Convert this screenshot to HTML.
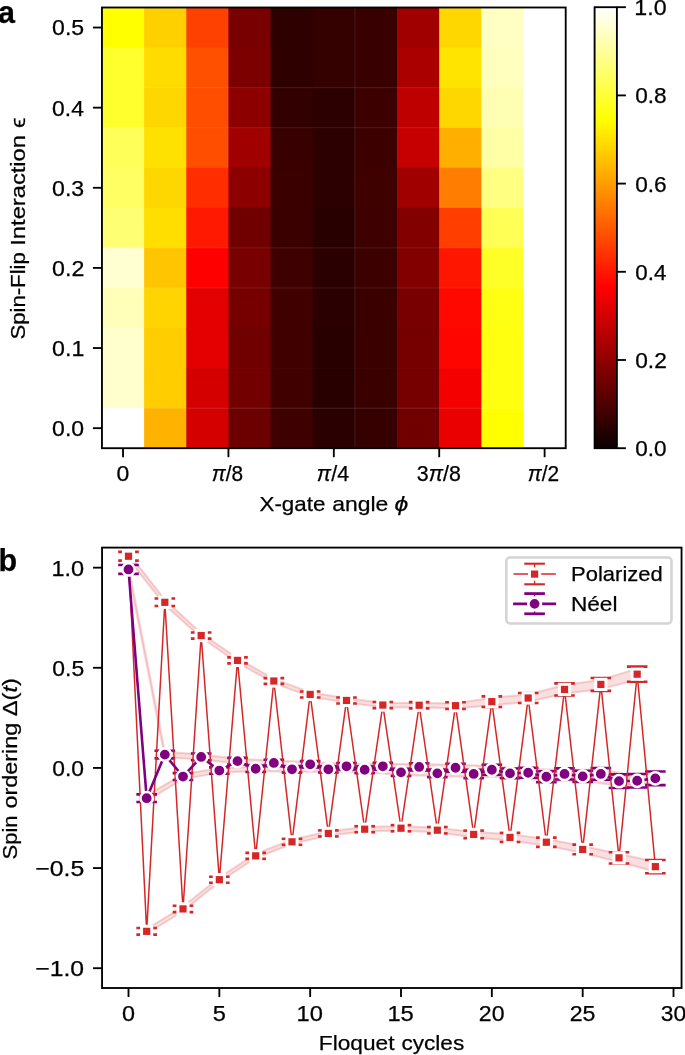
<!DOCTYPE html>
<html><head><meta charset="utf-8"><title>Figure</title>
<style>html,body{margin:0;padding:0;background:#fff;width:685px;height:1055px;overflow:hidden;font-family:"Liberation Sans",sans-serif}svg{display:block;will-change:transform}text{stroke:#000;stroke-width:0.25px}</style>
</head><body>
<svg width="685" height="1055" viewBox="0 0 685 1055" font-family="Liberation Sans, sans-serif"><rect x="101.95" y="7.50" width="42.76" height="40.66" fill="rgb(255,255,0)"/>
<rect x="101.95" y="47.56" width="42.76" height="40.66" fill="rgb(255,255,45)"/>
<rect x="101.95" y="87.63" width="42.76" height="40.66" fill="rgb(255,255,45)"/>
<rect x="101.95" y="127.69" width="42.76" height="40.66" fill="rgb(255,255,90)"/>
<rect x="101.95" y="167.75" width="42.76" height="40.66" fill="rgb(255,255,100)"/>
<rect x="101.95" y="207.82" width="42.76" height="40.66" fill="rgb(255,255,115)"/>
<rect x="101.95" y="247.88" width="42.76" height="40.66" fill="rgb(255,255,210)"/>
<rect x="101.95" y="287.95" width="42.76" height="40.66" fill="rgb(255,255,185)"/>
<rect x="101.95" y="328.01" width="42.76" height="40.66" fill="rgb(255,255,205)"/>
<rect x="101.95" y="368.07" width="42.76" height="40.66" fill="rgb(255,255,205)"/>
<rect x="101.95" y="408.14" width="42.76" height="40.66" fill="rgb(255,255,255)"/>
<rect x="144.11" y="7.50" width="42.76" height="40.66" fill="rgb(255,208,0)"/>
<rect x="144.11" y="47.56" width="42.76" height="40.66" fill="rgb(255,220,0)"/>
<rect x="144.11" y="87.63" width="42.76" height="40.66" fill="rgb(255,215,0)"/>
<rect x="144.11" y="127.69" width="42.76" height="40.66" fill="rgb(255,225,0)"/>
<rect x="144.11" y="167.75" width="42.76" height="40.66" fill="rgb(255,215,0)"/>
<rect x="144.11" y="207.82" width="42.76" height="40.66" fill="rgb(255,222,0)"/>
<rect x="144.11" y="247.88" width="42.76" height="40.66" fill="rgb(255,198,0)"/>
<rect x="144.11" y="287.95" width="42.76" height="40.66" fill="rgb(255,212,0)"/>
<rect x="144.11" y="328.01" width="42.76" height="40.66" fill="rgb(255,205,0)"/>
<rect x="144.11" y="368.07" width="42.76" height="40.66" fill="rgb(255,205,0)"/>
<rect x="144.11" y="408.14" width="42.76" height="40.66" fill="rgb(255,178,0)"/>
<rect x="186.27" y="7.50" width="42.76" height="40.66" fill="rgb(255,65,0)"/>
<rect x="186.27" y="47.56" width="42.76" height="40.66" fill="rgb(255,80,0)"/>
<rect x="186.27" y="87.63" width="42.76" height="40.66" fill="rgb(255,78,0)"/>
<rect x="186.27" y="127.69" width="42.76" height="40.66" fill="rgb(255,78,0)"/>
<rect x="186.27" y="167.75" width="42.76" height="40.66" fill="rgb(255,45,0)"/>
<rect x="186.27" y="207.82" width="42.76" height="40.66" fill="rgb(255,25,0)"/>
<rect x="186.27" y="247.88" width="42.76" height="40.66" fill="rgb(255,0,0)"/>
<rect x="186.27" y="287.95" width="42.76" height="40.66" fill="rgb(228,0,0)"/>
<rect x="186.27" y="328.01" width="42.76" height="40.66" fill="rgb(228,0,0)"/>
<rect x="186.27" y="368.07" width="42.76" height="40.66" fill="rgb(212,0,0)"/>
<rect x="186.27" y="408.14" width="42.76" height="40.66" fill="rgb(212,0,0)"/>
<rect x="228.43" y="7.50" width="42.76" height="40.66" fill="rgb(120,0,0)"/>
<rect x="228.43" y="47.56" width="42.76" height="40.66" fill="rgb(125,0,0)"/>
<rect x="228.43" y="87.63" width="42.76" height="40.66" fill="rgb(140,0,0)"/>
<rect x="228.43" y="127.69" width="42.76" height="40.66" fill="rgb(160,0,0)"/>
<rect x="228.43" y="167.75" width="42.76" height="40.66" fill="rgb(140,0,0)"/>
<rect x="228.43" y="207.82" width="42.76" height="40.66" fill="rgb(112,0,0)"/>
<rect x="228.43" y="247.88" width="42.76" height="40.66" fill="rgb(120,0,0)"/>
<rect x="228.43" y="287.95" width="42.76" height="40.66" fill="rgb(118,0,0)"/>
<rect x="228.43" y="328.01" width="42.76" height="40.66" fill="rgb(112,0,0)"/>
<rect x="228.43" y="368.07" width="42.76" height="40.66" fill="rgb(115,0,0)"/>
<rect x="228.43" y="408.14" width="42.76" height="40.66" fill="rgb(108,0,0)"/>
<rect x="270.59" y="7.50" width="42.76" height="40.66" fill="rgb(47,0,0)"/>
<rect x="270.59" y="47.56" width="42.76" height="40.66" fill="rgb(47,0,0)"/>
<rect x="270.59" y="87.63" width="42.76" height="40.66" fill="rgb(50,0,0)"/>
<rect x="270.59" y="127.69" width="42.76" height="40.66" fill="rgb(57,0,0)"/>
<rect x="270.59" y="167.75" width="42.76" height="40.66" fill="rgb(58,0,0)"/>
<rect x="270.59" y="207.82" width="42.76" height="40.66" fill="rgb(58,0,0)"/>
<rect x="270.59" y="247.88" width="42.76" height="40.66" fill="rgb(62,0,0)"/>
<rect x="270.59" y="287.95" width="42.76" height="40.66" fill="rgb(65,0,0)"/>
<rect x="270.59" y="328.01" width="42.76" height="40.66" fill="rgb(65,0,0)"/>
<rect x="270.59" y="368.07" width="42.76" height="40.66" fill="rgb(65,0,0)"/>
<rect x="270.59" y="408.14" width="42.76" height="40.66" fill="rgb(62,0,0)"/>
<rect x="312.75" y="7.50" width="42.76" height="40.66" fill="rgb(52,0,0)"/>
<rect x="312.75" y="47.56" width="42.76" height="40.66" fill="rgb(52,0,0)"/>
<rect x="312.75" y="87.63" width="42.76" height="40.66" fill="rgb(45,0,0)"/>
<rect x="312.75" y="127.69" width="42.76" height="40.66" fill="rgb(45,0,0)"/>
<rect x="312.75" y="167.75" width="42.76" height="40.66" fill="rgb(45,0,0)"/>
<rect x="312.75" y="207.82" width="42.76" height="40.66" fill="rgb(40,0,0)"/>
<rect x="312.75" y="247.88" width="42.76" height="40.66" fill="rgb(42,0,0)"/>
<rect x="312.75" y="287.95" width="42.76" height="40.66" fill="rgb(42,0,0)"/>
<rect x="312.75" y="328.01" width="42.76" height="40.66" fill="rgb(40,0,0)"/>
<rect x="312.75" y="368.07" width="42.76" height="40.66" fill="rgb(40,0,0)"/>
<rect x="312.75" y="408.14" width="42.76" height="40.66" fill="rgb(42,0,0)"/>
<rect x="354.90" y="7.50" width="42.76" height="40.66" fill="rgb(57,0,0)"/>
<rect x="354.90" y="47.56" width="42.76" height="40.66" fill="rgb(57,0,0)"/>
<rect x="354.90" y="87.63" width="42.76" height="40.66" fill="rgb(60,0,0)"/>
<rect x="354.90" y="127.69" width="42.76" height="40.66" fill="rgb(60,0,0)"/>
<rect x="354.90" y="167.75" width="42.76" height="40.66" fill="rgb(63,0,0)"/>
<rect x="354.90" y="207.82" width="42.76" height="40.66" fill="rgb(62,0,0)"/>
<rect x="354.90" y="247.88" width="42.76" height="40.66" fill="rgb(60,0,0)"/>
<rect x="354.90" y="287.95" width="42.76" height="40.66" fill="rgb(58,0,0)"/>
<rect x="354.90" y="328.01" width="42.76" height="40.66" fill="rgb(58,0,0)"/>
<rect x="354.90" y="368.07" width="42.76" height="40.66" fill="rgb(58,0,0)"/>
<rect x="354.90" y="408.14" width="42.76" height="40.66" fill="rgb(55,0,0)"/>
<rect x="397.06" y="7.50" width="42.76" height="40.66" fill="rgb(160,0,0)"/>
<rect x="397.06" y="47.56" width="42.76" height="40.66" fill="rgb(170,0,0)"/>
<rect x="397.06" y="87.63" width="42.76" height="40.66" fill="rgb(190,0,0)"/>
<rect x="397.06" y="127.69" width="42.76" height="40.66" fill="rgb(198,0,0)"/>
<rect x="397.06" y="167.75" width="42.76" height="40.66" fill="rgb(160,0,0)"/>
<rect x="397.06" y="207.82" width="42.76" height="40.66" fill="rgb(130,0,0)"/>
<rect x="397.06" y="247.88" width="42.76" height="40.66" fill="rgb(130,0,0)"/>
<rect x="397.06" y="287.95" width="42.76" height="40.66" fill="rgb(120,0,0)"/>
<rect x="397.06" y="328.01" width="42.76" height="40.66" fill="rgb(118,0,0)"/>
<rect x="397.06" y="368.07" width="42.76" height="40.66" fill="rgb(118,0,0)"/>
<rect x="397.06" y="408.14" width="42.76" height="40.66" fill="rgb(112,0,0)"/>
<rect x="439.22" y="7.50" width="42.76" height="40.66" fill="rgb(255,215,0)"/>
<rect x="439.22" y="47.56" width="42.76" height="40.66" fill="rgb(255,228,0)"/>
<rect x="439.22" y="87.63" width="42.76" height="40.66" fill="rgb(255,215,0)"/>
<rect x="439.22" y="127.69" width="42.76" height="40.66" fill="rgb(255,175,0)"/>
<rect x="439.22" y="167.75" width="42.76" height="40.66" fill="rgb(255,125,0)"/>
<rect x="439.22" y="207.82" width="42.76" height="40.66" fill="rgb(255,62,0)"/>
<rect x="439.22" y="247.88" width="42.76" height="40.66" fill="rgb(255,22,0)"/>
<rect x="439.22" y="287.95" width="42.76" height="40.66" fill="rgb(255,8,0)"/>
<rect x="439.22" y="328.01" width="42.76" height="40.66" fill="rgb(255,5,0)"/>
<rect x="439.22" y="368.07" width="42.76" height="40.66" fill="rgb(245,0,0)"/>
<rect x="439.22" y="408.14" width="42.76" height="40.66" fill="rgb(235,0,0)"/>
<rect x="481.38" y="7.50" width="42.76" height="40.66" fill="rgb(255,255,195)"/>
<rect x="481.38" y="47.56" width="42.76" height="40.66" fill="rgb(255,255,190)"/>
<rect x="481.38" y="87.63" width="42.76" height="40.66" fill="rgb(255,255,180)"/>
<rect x="481.38" y="127.69" width="42.76" height="40.66" fill="rgb(255,255,165)"/>
<rect x="481.38" y="167.75" width="42.76" height="40.66" fill="rgb(255,255,130)"/>
<rect x="481.38" y="207.82" width="42.76" height="40.66" fill="rgb(255,255,85)"/>
<rect x="481.38" y="247.88" width="42.76" height="40.66" fill="rgb(255,255,40)"/>
<rect x="481.38" y="287.95" width="42.76" height="40.66" fill="rgb(255,255,20)"/>
<rect x="481.38" y="328.01" width="42.76" height="40.66" fill="rgb(255,255,15)"/>
<rect x="481.38" y="368.07" width="42.76" height="40.66" fill="rgb(255,255,15)"/>
<rect x="481.38" y="408.14" width="42.76" height="40.66" fill="rgb(255,255,0)"/>
<rect x="523.54" y="7.50" width="42.76" height="40.66" fill="rgb(255,255,255)"/>
<rect x="523.54" y="47.56" width="42.76" height="40.66" fill="rgb(255,255,255)"/>
<rect x="523.54" y="87.63" width="42.76" height="40.66" fill="rgb(255,255,255)"/>
<rect x="523.54" y="127.69" width="42.76" height="40.66" fill="rgb(255,255,255)"/>
<rect x="523.54" y="167.75" width="42.76" height="40.66" fill="rgb(255,255,255)"/>
<rect x="523.54" y="207.82" width="42.76" height="40.66" fill="rgb(255,255,255)"/>
<rect x="523.54" y="247.88" width="42.76" height="40.66" fill="rgb(255,255,255)"/>
<rect x="523.54" y="287.95" width="42.76" height="40.66" fill="rgb(255,255,255)"/>
<rect x="523.54" y="328.01" width="42.76" height="40.66" fill="rgb(255,255,255)"/>
<rect x="523.54" y="368.07" width="42.76" height="40.66" fill="rgb(255,255,255)"/>
<rect x="523.54" y="408.14" width="42.76" height="40.66" fill="rgb(255,255,255)"/>
<line x1="101.95" y1="87.63" x2="565.70" y2="87.63" stroke="#fff" stroke-opacity="0.1" stroke-width="1"/>
<line x1="101.95" y1="127.69" x2="565.70" y2="127.69" stroke="#fff" stroke-opacity="0.1" stroke-width="1"/>
<line x1="101.95" y1="247.88" x2="565.70" y2="247.88" stroke="#fff" stroke-opacity="0.1" stroke-width="1"/>
<line x1="101.95" y1="287.95" x2="565.70" y2="287.95" stroke="#fff" stroke-opacity="0.1" stroke-width="1"/>
<line x1="101.95" y1="408.14" x2="565.70" y2="408.14" stroke="#fff" stroke-opacity="0.1" stroke-width="1"/>
<line x1="354.90" y1="7.50" x2="354.90" y2="448.20" stroke="#fff" stroke-opacity="0.1" stroke-width="1"/>
<rect x="101.95" y="7.50" width="463.75" height="440.70" fill="none" stroke="#000" stroke-width="1.85"/>
<line x1="92.95" y1="428.17" x2="101.95" y2="428.17" stroke="#000" stroke-width="1.85"/>
<text x="52.10" y="436.07" font-size="21.40" textLength="32.00" lengthAdjust="spacingAndGlyphs" fill="#000"><tspan>0.0</tspan></text>
<line x1="92.95" y1="348.04" x2="101.95" y2="348.04" stroke="#000" stroke-width="1.85"/>
<text x="52.09" y="355.94" font-size="21.40" textLength="32.24" lengthAdjust="spacingAndGlyphs" fill="#000"><tspan>0.1</tspan></text>
<line x1="92.95" y1="267.91" x2="101.95" y2="267.91" stroke="#000" stroke-width="1.85"/>
<text x="52.09" y="275.81" font-size="21.40" textLength="32.27" lengthAdjust="spacingAndGlyphs" fill="#000"><tspan>0.2</tspan></text>
<line x1="92.95" y1="187.79" x2="101.95" y2="187.79" stroke="#000" stroke-width="1.85"/>
<text x="52.10" y="195.69" font-size="21.40" textLength="32.12" lengthAdjust="spacingAndGlyphs" fill="#000"><tspan>0.3</tspan></text>
<line x1="92.95" y1="107.66" x2="101.95" y2="107.66" stroke="#000" stroke-width="1.85"/>
<text x="52.11" y="115.56" font-size="21.40" textLength="31.76" lengthAdjust="spacingAndGlyphs" fill="#000"><tspan>0.4</tspan></text>
<line x1="92.95" y1="27.53" x2="101.95" y2="27.53" stroke="#000" stroke-width="1.85"/>
<text x="52.10" y="35.43" font-size="21.40" textLength="32.07" lengthAdjust="spacingAndGlyphs" fill="#000"><tspan>0.5</tspan></text>
<line x1="123.03" y1="448.20" x2="123.03" y2="457.20" stroke="#000" stroke-width="1.85"/>
<text x="116.60" y="481.30" font-size="21.40" textLength="12.80" lengthAdjust="spacingAndGlyphs" fill="#000"><tspan>0</tspan></text>
<line x1="228.43" y1="448.20" x2="228.43" y2="457.20" stroke="#000" stroke-width="1.85"/>
<text x="211.77" y="481.30" font-size="21.40" textLength="31.33" lengthAdjust="spacingAndGlyphs" fill="#000"><tspan font-style="italic">π</tspan><tspan>/8</tspan></text>
<line x1="333.83" y1="448.20" x2="333.83" y2="457.20" stroke="#000" stroke-width="1.85"/>
<text x="316.85" y="481.30" font-size="21.40" textLength="32.18" lengthAdjust="spacingAndGlyphs" fill="#000"><tspan font-style="italic">π</tspan><tspan>/4</tspan></text>
<line x1="439.22" y1="448.20" x2="439.22" y2="457.20" stroke="#000" stroke-width="1.85"/>
<text x="416.79" y="481.30" font-size="21.40" textLength="44.04" lengthAdjust="spacingAndGlyphs" fill="#000"><tspan>3</tspan><tspan font-style="italic">π</tspan><tspan>/8</tspan></text>
<line x1="544.62" y1="448.20" x2="544.62" y2="457.20" stroke="#000" stroke-width="1.85"/>
<text x="527.77" y="481.30" font-size="21.40" textLength="31.48" lengthAdjust="spacingAndGlyphs" fill="#000"><tspan font-style="italic">π</tspan><tspan>/2</tspan></text>
<text x="259.50" y="511.00" font-size="21.00" textLength="65.91" lengthAdjust="spacingAndGlyphs" fill="#000"><tspan>X-gate</tspan></text>
<text x="332.21" y="511.00" font-size="21.00" textLength="56.10" lengthAdjust="spacingAndGlyphs" fill="#000"><tspan>angle</tspan></text>
<text x="394.61" y="511.00" font-size="21.00" textLength="13.79" lengthAdjust="spacingAndGlyphs" fill="#000"><tspan font-style="italic">ϕ</tspan></text>
<text x="-1.01" y="0.00" font-size="21.00" textLength="87.40" lengthAdjust="spacingAndGlyphs" transform="translate(25.0,338.6) rotate(-90)" fill="#000"><tspan>Spin-Flip</tspan></text>
<text x="92.88" y="0.00" font-size="21.00" textLength="110.73" lengthAdjust="spacingAndGlyphs" transform="translate(25.0,338.6) rotate(-90)" fill="#000"><tspan>Interaction</tspan></text>
<text x="210.49" y="0.00" font-size="21.00" textLength="10.54" lengthAdjust="spacingAndGlyphs" transform="translate(25.0,338.6) rotate(-90)" fill="#000"><tspan>ϵ</tspan></text>
<text x="-2.0" y="23.0" font-size="30.5" font-weight="bold">a</text>
<defs><linearGradient id="hot" x1="0" y1="1" x2="0" y2="0"><stop offset="0" stop-color="rgb(11,0,0)"/><stop offset="0.365079" stop-color="rgb(255,0,0)"/><stop offset="0.746032" stop-color="rgb(255,255,0)"/><stop offset="1" stop-color="rgb(255,255,255)"/></linearGradient></defs>
<rect x="594.60" y="7.20" width="22.30" height="441.00" fill="url(#hot)"/>
<rect x="594.60" y="7.20" width="22.30" height="441.00" fill="none" stroke="#000" stroke-width="1.85"/>
<line x1="616.90" y1="448.20" x2="625.90" y2="448.20" stroke="#000" stroke-width="1.85"/>
<text x="635.22" y="456.10" font-size="21.40" textLength="31.36" lengthAdjust="spacingAndGlyphs" fill="#000"><tspan>0.0</tspan></text>
<line x1="616.90" y1="360.00" x2="625.90" y2="360.00" stroke="#000" stroke-width="1.85"/>
<text x="635.21" y="367.90" font-size="21.40" textLength="31.63" lengthAdjust="spacingAndGlyphs" fill="#000"><tspan>0.2</tspan></text>
<line x1="616.90" y1="271.80" x2="625.90" y2="271.80" stroke="#000" stroke-width="1.85"/>
<text x="635.23" y="279.70" font-size="21.40" textLength="31.13" lengthAdjust="spacingAndGlyphs" fill="#000"><tspan>0.4</tspan></text>
<line x1="616.90" y1="183.60" x2="625.90" y2="183.60" stroke="#000" stroke-width="1.85"/>
<text x="635.22" y="191.50" font-size="21.40" textLength="31.48" lengthAdjust="spacingAndGlyphs" fill="#000"><tspan>0.6</tspan></text>
<line x1="616.90" y1="95.40" x2="625.90" y2="95.40" stroke="#000" stroke-width="1.85"/>
<text x="635.22" y="103.30" font-size="21.40" textLength="31.47" lengthAdjust="spacingAndGlyphs" fill="#000"><tspan>0.8</tspan></text>
<line x1="616.90" y1="7.20" x2="625.90" y2="7.20" stroke="#000" stroke-width="1.85"/>
<text x="634.33" y="15.10" font-size="21.40" textLength="32.28" lengthAdjust="spacingAndGlyphs" fill="#000"><tspan>1.0</tspan></text>
<defs><clipPath id="cb"><rect x="102.05" y="547.60" width="579.50" height="440.40"/></clipPath></defs>
<g clip-path="url(#cb)"><polygon points="128.50,553.07 164.83,599.57 201.17,633.33 237.50,658.19 273.84,678.89 310.17,692.24 346.50,698.25 382.84,702.78 419.17,702.98 455.51,703.16 491.84,697.77 528.17,694.38 564.51,685.04 600.84,679.74 637.18,668.65 637.18,679.76 600.84,689.10 564.51,693.81 528.17,701.69 491.84,705.51 455.51,708.13 419.17,707.51 382.84,707.31 346.50,702.63 310.17,696.62 273.84,683.13 237.50,662.58 201.17,637.77 164.83,605.04 128.50,559.42" fill="#d62728" fill-opacity="0.15" stroke="#d62728" stroke-opacity="0.19" stroke-width="2.0" stroke-linejoin="round"/><polygon points="146.67,928.94 183.00,906.58 219.34,877.49 255.67,853.66 292.00,839.64 328.34,831.23 364.67,827.02 401.00,825.95 437.34,827.87 473.67,831.64 510.01,834.13 546.34,838.87 582.68,845.93 619.01,853.76 655.34,861.84 655.34,871.49 619.01,861.94 582.68,852.95 546.34,845.59 510.01,840.71 473.67,837.20 437.34,832.55 401.00,830.48 364.67,831.41 328.34,835.61 292.00,844.02 255.67,858.04 219.34,881.87 183.00,911.26 146.67,933.76" fill="#d62728" fill-opacity="0.15" stroke="#d62728" stroke-opacity="0.19" stroke-width="2.0" stroke-linejoin="round"/><polygon points="128.50,566.25 164.83,751.81 201.17,754.43 237.50,758.78 273.84,760.58 310.17,761.99 346.50,763.99 382.84,763.84 419.17,764.30 455.51,764.81 491.84,766.08 528.17,769.08 564.51,769.84 600.84,769.70 637.18,775.78 637.18,785.72 600.84,778.18 564.51,778.03 528.17,776.39 491.84,773.39 455.51,770.65 419.17,769.56 382.84,768.81 346.50,768.67 310.17,766.66 273.84,765.26 237.50,763.46 201.17,759.40 164.83,757.37 128.50,572.68" fill="#d62728" fill-opacity="0.15" stroke="#d62728" stroke-opacity="0.19" stroke-width="2.0" stroke-linejoin="round"/><polygon points="146.67,795.39 183.00,774.06 219.34,768.19 255.67,766.39 292.00,766.99 328.34,766.99 364.67,767.25 401.00,769.70 437.34,770.56 473.67,770.87 510.01,769.83 546.34,772.72 582.68,772.25 619.01,776.18 655.34,773.37 655.34,783.31 619.01,786.12 582.68,780.43 546.34,780.76 510.01,776.85 473.67,777.01 437.34,776.12 401.00,774.97 364.67,772.22 328.34,771.67 292.00,771.67 255.67,771.07 219.34,772.87 183.00,779.03 146.67,800.95" fill="#d62728" fill-opacity="0.15" stroke="#d62728" stroke-opacity="0.19" stroke-width="2.0" stroke-linejoin="round"/><line x1="128.50" y1="551.90" x2="128.50" y2="560.59" stroke="#d62728" stroke-width="1.3"/><line x1="118.20" y1="551.90" x2="138.80" y2="551.90" stroke="#d62728" stroke-width="2.60"/><line x1="118.20" y1="560.59" x2="138.80" y2="560.59" stroke="#d62728" stroke-width="2.60"/><line x1="146.67" y1="928.05" x2="146.67" y2="934.65" stroke="#d62728" stroke-width="1.3"/><line x1="136.37" y1="928.05" x2="156.97" y2="928.05" stroke="#d62728" stroke-width="2.60"/><line x1="136.37" y1="934.65" x2="156.97" y2="934.65" stroke="#d62728" stroke-width="2.60"/><line x1="164.83" y1="598.56" x2="164.83" y2="606.05" stroke="#d62728" stroke-width="1.3"/><line x1="154.53" y1="598.56" x2="175.13" y2="598.56" stroke="#d62728" stroke-width="2.60"/><line x1="154.53" y1="606.05" x2="175.13" y2="606.05" stroke="#d62728" stroke-width="2.60"/><line x1="183.00" y1="905.72" x2="183.00" y2="912.12" stroke="#d62728" stroke-width="1.3"/><line x1="172.70" y1="905.72" x2="193.30" y2="905.72" stroke="#d62728" stroke-width="2.60"/><line x1="172.70" y1="912.12" x2="193.30" y2="912.12" stroke="#d62728" stroke-width="2.60"/><line x1="201.17" y1="632.51" x2="201.17" y2="638.60" stroke="#d62728" stroke-width="1.3"/><line x1="190.87" y1="632.51" x2="211.47" y2="632.51" stroke="#d62728" stroke-width="2.60"/><line x1="190.87" y1="638.60" x2="211.47" y2="638.60" stroke="#d62728" stroke-width="2.60"/><line x1="219.34" y1="876.68" x2="219.34" y2="882.68" stroke="#d62728" stroke-width="1.3"/><line x1="209.03" y1="876.68" x2="229.64" y2="876.68" stroke="#d62728" stroke-width="2.60"/><line x1="209.03" y1="882.68" x2="229.64" y2="882.68" stroke="#d62728" stroke-width="2.60"/><line x1="237.50" y1="657.38" x2="237.50" y2="663.39" stroke="#d62728" stroke-width="1.3"/><line x1="227.20" y1="657.38" x2="247.80" y2="657.38" stroke="#d62728" stroke-width="2.60"/><line x1="227.20" y1="663.39" x2="247.80" y2="663.39" stroke="#d62728" stroke-width="2.60"/><line x1="255.67" y1="852.84" x2="255.67" y2="858.85" stroke="#d62728" stroke-width="1.3"/><line x1="245.37" y1="852.84" x2="265.97" y2="852.84" stroke="#d62728" stroke-width="2.60"/><line x1="245.37" y1="858.85" x2="265.97" y2="858.85" stroke="#d62728" stroke-width="2.60"/><line x1="273.84" y1="678.11" x2="273.84" y2="683.92" stroke="#d62728" stroke-width="1.3"/><line x1="263.54" y1="678.11" x2="284.14" y2="678.11" stroke="#d62728" stroke-width="2.60"/><line x1="263.54" y1="683.92" x2="284.14" y2="683.92" stroke="#d62728" stroke-width="2.60"/><line x1="292.00" y1="838.83" x2="292.00" y2="844.83" stroke="#d62728" stroke-width="1.3"/><line x1="281.70" y1="838.83" x2="302.30" y2="838.83" stroke="#d62728" stroke-width="2.60"/><line x1="281.70" y1="844.83" x2="302.30" y2="844.83" stroke="#d62728" stroke-width="2.60"/><line x1="310.17" y1="691.43" x2="310.17" y2="697.43" stroke="#d62728" stroke-width="1.3"/><line x1="299.87" y1="691.43" x2="320.47" y2="691.43" stroke="#d62728" stroke-width="2.60"/><line x1="299.87" y1="697.43" x2="320.47" y2="697.43" stroke="#d62728" stroke-width="2.60"/><line x1="328.34" y1="830.41" x2="328.34" y2="836.42" stroke="#d62728" stroke-width="1.3"/><line x1="318.04" y1="830.41" x2="338.64" y2="830.41" stroke="#d62728" stroke-width="2.60"/><line x1="318.04" y1="836.42" x2="338.64" y2="836.42" stroke="#d62728" stroke-width="2.60"/><line x1="346.50" y1="697.43" x2="346.50" y2="703.44" stroke="#d62728" stroke-width="1.3"/><line x1="336.20" y1="697.43" x2="356.80" y2="697.43" stroke="#d62728" stroke-width="2.60"/><line x1="336.20" y1="703.44" x2="356.80" y2="703.44" stroke="#d62728" stroke-width="2.60"/><line x1="364.67" y1="826.21" x2="364.67" y2="832.22" stroke="#d62728" stroke-width="1.3"/><line x1="354.37" y1="826.21" x2="374.97" y2="826.21" stroke="#d62728" stroke-width="2.60"/><line x1="354.37" y1="832.22" x2="374.97" y2="832.22" stroke="#d62728" stroke-width="2.60"/><line x1="382.84" y1="701.94" x2="382.84" y2="708.15" stroke="#d62728" stroke-width="1.3"/><line x1="372.54" y1="701.94" x2="393.14" y2="701.94" stroke="#d62728" stroke-width="2.60"/><line x1="372.54" y1="708.15" x2="393.14" y2="708.15" stroke="#d62728" stroke-width="2.60"/><line x1="401.00" y1="825.11" x2="401.00" y2="831.32" stroke="#d62728" stroke-width="1.3"/><line x1="390.70" y1="825.11" x2="411.31" y2="825.11" stroke="#d62728" stroke-width="2.60"/><line x1="390.70" y1="831.32" x2="411.31" y2="831.32" stroke="#d62728" stroke-width="2.60"/><line x1="419.17" y1="702.14" x2="419.17" y2="708.35" stroke="#d62728" stroke-width="1.3"/><line x1="408.87" y1="702.14" x2="429.47" y2="702.14" stroke="#d62728" stroke-width="2.60"/><line x1="408.87" y1="708.35" x2="429.47" y2="708.35" stroke="#d62728" stroke-width="2.60"/><line x1="437.34" y1="827.01" x2="437.34" y2="833.42" stroke="#d62728" stroke-width="1.3"/><line x1="427.04" y1="827.01" x2="447.64" y2="827.01" stroke="#d62728" stroke-width="2.60"/><line x1="427.04" y1="833.42" x2="447.64" y2="833.42" stroke="#d62728" stroke-width="2.60"/><line x1="455.51" y1="702.24" x2="455.51" y2="709.05" stroke="#d62728" stroke-width="1.3"/><line x1="445.21" y1="702.24" x2="465.81" y2="702.24" stroke="#d62728" stroke-width="2.60"/><line x1="445.21" y1="709.05" x2="465.81" y2="709.05" stroke="#d62728" stroke-width="2.60"/><line x1="473.67" y1="830.61" x2="473.67" y2="838.22" stroke="#d62728" stroke-width="1.3"/><line x1="463.37" y1="830.61" x2="483.97" y2="830.61" stroke="#d62728" stroke-width="2.60"/><line x1="463.37" y1="838.22" x2="483.97" y2="838.22" stroke="#d62728" stroke-width="2.60"/><line x1="491.84" y1="696.33" x2="491.84" y2="706.95" stroke="#d62728" stroke-width="1.3"/><line x1="481.54" y1="696.33" x2="502.14" y2="696.33" stroke="#d62728" stroke-width="2.60"/><line x1="481.54" y1="706.95" x2="502.14" y2="706.95" stroke="#d62728" stroke-width="2.60"/><line x1="510.01" y1="832.92" x2="510.01" y2="841.93" stroke="#d62728" stroke-width="1.3"/><line x1="499.71" y1="832.92" x2="520.31" y2="832.92" stroke="#d62728" stroke-width="2.60"/><line x1="499.71" y1="841.93" x2="520.31" y2="841.93" stroke="#d62728" stroke-width="2.60"/><line x1="528.17" y1="693.03" x2="528.17" y2="703.04" stroke="#d62728" stroke-width="1.3"/><line x1="517.87" y1="693.03" x2="538.47" y2="693.03" stroke="#d62728" stroke-width="2.60"/><line x1="517.87" y1="703.04" x2="538.47" y2="703.04" stroke="#d62728" stroke-width="2.60"/><line x1="546.34" y1="837.62" x2="546.34" y2="846.84" stroke="#d62728" stroke-width="1.3"/><line x1="536.04" y1="837.62" x2="556.64" y2="837.62" stroke="#d62728" stroke-width="2.60"/><line x1="536.04" y1="846.84" x2="556.64" y2="846.84" stroke="#d62728" stroke-width="2.60"/><line x1="564.51" y1="683.42" x2="564.51" y2="695.43" stroke="#d62728" stroke-width="1.3"/><line x1="554.21" y1="683.42" x2="574.81" y2="683.42" stroke="#d62728" stroke-width="2.60"/><line x1="554.21" y1="695.43" x2="574.81" y2="695.43" stroke="#d62728" stroke-width="2.60"/><line x1="582.68" y1="844.63" x2="582.68" y2="854.25" stroke="#d62728" stroke-width="1.3"/><line x1="572.38" y1="844.63" x2="592.98" y2="844.63" stroke="#d62728" stroke-width="2.60"/><line x1="572.38" y1="854.25" x2="592.98" y2="854.25" stroke="#d62728" stroke-width="2.60"/><line x1="600.84" y1="678.01" x2="600.84" y2="690.83" stroke="#d62728" stroke-width="1.3"/><line x1="590.54" y1="678.01" x2="611.14" y2="678.01" stroke="#d62728" stroke-width="2.60"/><line x1="590.54" y1="690.83" x2="611.14" y2="690.83" stroke="#d62728" stroke-width="2.60"/><line x1="619.01" y1="852.24" x2="619.01" y2="863.46" stroke="#d62728" stroke-width="1.3"/><line x1="608.71" y1="852.24" x2="629.31" y2="852.24" stroke="#d62728" stroke-width="2.60"/><line x1="608.71" y1="863.46" x2="629.31" y2="863.46" stroke="#d62728" stroke-width="2.60"/><line x1="637.18" y1="666.59" x2="637.18" y2="681.81" stroke="#d62728" stroke-width="1.3"/><line x1="626.88" y1="666.59" x2="647.48" y2="666.59" stroke="#d62728" stroke-width="2.60"/><line x1="626.88" y1="681.81" x2="647.48" y2="681.81" stroke="#d62728" stroke-width="2.60"/><line x1="655.34" y1="860.05" x2="655.34" y2="873.27" stroke="#d62728" stroke-width="1.3"/><line x1="645.04" y1="860.05" x2="665.64" y2="860.05" stroke="#d62728" stroke-width="2.60"/><line x1="645.04" y1="873.27" x2="665.64" y2="873.27" stroke="#d62728" stroke-width="2.60"/><line x1="128.50" y1="565.06" x2="128.50" y2="573.87" stroke="#800080" stroke-width="1.3"/><line x1="118.20" y1="565.06" x2="138.80" y2="565.06" stroke="#800080" stroke-width="2.60"/><line x1="118.20" y1="573.87" x2="138.80" y2="573.87" stroke="#800080" stroke-width="2.60"/><line x1="146.67" y1="794.37" x2="146.67" y2="801.98" stroke="#800080" stroke-width="1.3"/><line x1="136.37" y1="794.37" x2="156.97" y2="794.37" stroke="#800080" stroke-width="2.60"/><line x1="136.37" y1="801.98" x2="156.97" y2="801.98" stroke="#800080" stroke-width="2.60"/><line x1="164.83" y1="750.79" x2="164.83" y2="758.40" stroke="#800080" stroke-width="1.3"/><line x1="154.53" y1="750.79" x2="175.13" y2="750.79" stroke="#800080" stroke-width="2.60"/><line x1="154.53" y1="758.40" x2="175.13" y2="758.40" stroke="#800080" stroke-width="2.60"/><line x1="183.00" y1="773.14" x2="183.00" y2="779.95" stroke="#800080" stroke-width="1.3"/><line x1="172.70" y1="773.14" x2="193.30" y2="773.14" stroke="#800080" stroke-width="2.60"/><line x1="172.70" y1="779.95" x2="193.30" y2="779.95" stroke="#800080" stroke-width="2.60"/><line x1="201.17" y1="753.51" x2="201.17" y2="760.32" stroke="#800080" stroke-width="1.3"/><line x1="190.87" y1="753.51" x2="211.47" y2="753.51" stroke="#800080" stroke-width="2.60"/><line x1="190.87" y1="760.32" x2="211.47" y2="760.32" stroke="#800080" stroke-width="2.60"/><line x1="219.34" y1="767.33" x2="219.34" y2="773.74" stroke="#800080" stroke-width="1.3"/><line x1="209.03" y1="767.33" x2="229.64" y2="767.33" stroke="#800080" stroke-width="2.60"/><line x1="209.03" y1="773.74" x2="229.64" y2="773.74" stroke="#800080" stroke-width="2.60"/><line x1="237.50" y1="757.92" x2="237.50" y2="764.33" stroke="#800080" stroke-width="1.3"/><line x1="227.20" y1="757.92" x2="247.80" y2="757.92" stroke="#800080" stroke-width="2.60"/><line x1="227.20" y1="764.33" x2="247.80" y2="764.33" stroke="#800080" stroke-width="2.60"/><line x1="255.67" y1="765.53" x2="255.67" y2="771.94" stroke="#800080" stroke-width="1.3"/><line x1="245.37" y1="765.53" x2="265.97" y2="765.53" stroke="#800080" stroke-width="2.60"/><line x1="245.37" y1="771.94" x2="265.97" y2="771.94" stroke="#800080" stroke-width="2.60"/><line x1="273.84" y1="759.72" x2="273.84" y2="766.13" stroke="#800080" stroke-width="1.3"/><line x1="263.54" y1="759.72" x2="284.14" y2="759.72" stroke="#800080" stroke-width="2.60"/><line x1="263.54" y1="766.13" x2="284.14" y2="766.13" stroke="#800080" stroke-width="2.60"/><line x1="292.00" y1="766.13" x2="292.00" y2="772.54" stroke="#800080" stroke-width="1.3"/><line x1="281.70" y1="766.13" x2="302.30" y2="766.13" stroke="#800080" stroke-width="2.60"/><line x1="281.70" y1="772.54" x2="302.30" y2="772.54" stroke="#800080" stroke-width="2.60"/><line x1="310.17" y1="761.12" x2="310.17" y2="767.53" stroke="#800080" stroke-width="1.3"/><line x1="299.87" y1="761.12" x2="320.47" y2="761.12" stroke="#800080" stroke-width="2.60"/><line x1="299.87" y1="767.53" x2="320.47" y2="767.53" stroke="#800080" stroke-width="2.60"/><line x1="328.34" y1="766.13" x2="328.34" y2="772.54" stroke="#800080" stroke-width="1.3"/><line x1="318.04" y1="766.13" x2="338.64" y2="766.13" stroke="#800080" stroke-width="2.60"/><line x1="318.04" y1="772.54" x2="338.64" y2="772.54" stroke="#800080" stroke-width="2.60"/><line x1="346.50" y1="763.12" x2="346.50" y2="769.53" stroke="#800080" stroke-width="1.3"/><line x1="336.20" y1="763.12" x2="356.80" y2="763.12" stroke="#800080" stroke-width="2.60"/><line x1="336.20" y1="769.53" x2="356.80" y2="769.53" stroke="#800080" stroke-width="2.60"/><line x1="364.67" y1="766.33" x2="364.67" y2="773.14" stroke="#800080" stroke-width="1.3"/><line x1="354.37" y1="766.33" x2="374.97" y2="766.33" stroke="#800080" stroke-width="2.60"/><line x1="354.37" y1="773.14" x2="374.97" y2="773.14" stroke="#800080" stroke-width="2.60"/><line x1="382.84" y1="762.92" x2="382.84" y2="769.73" stroke="#800080" stroke-width="1.3"/><line x1="372.54" y1="762.92" x2="393.14" y2="762.92" stroke="#800080" stroke-width="2.60"/><line x1="372.54" y1="769.73" x2="393.14" y2="769.73" stroke="#800080" stroke-width="2.60"/><line x1="401.00" y1="768.73" x2="401.00" y2="775.94" stroke="#800080" stroke-width="1.3"/><line x1="390.70" y1="768.73" x2="411.31" y2="768.73" stroke="#800080" stroke-width="2.60"/><line x1="390.70" y1="775.94" x2="411.31" y2="775.94" stroke="#800080" stroke-width="2.60"/><line x1="419.17" y1="763.32" x2="419.17" y2="770.53" stroke="#800080" stroke-width="1.3"/><line x1="408.87" y1="763.32" x2="429.47" y2="763.32" stroke="#800080" stroke-width="2.60"/><line x1="408.87" y1="770.53" x2="429.47" y2="770.53" stroke="#800080" stroke-width="2.60"/><line x1="437.34" y1="769.53" x2="437.34" y2="777.14" stroke="#800080" stroke-width="1.3"/><line x1="427.04" y1="769.53" x2="447.64" y2="769.53" stroke="#800080" stroke-width="2.60"/><line x1="427.04" y1="777.14" x2="447.64" y2="777.14" stroke="#800080" stroke-width="2.60"/><line x1="455.51" y1="763.72" x2="455.51" y2="771.74" stroke="#800080" stroke-width="1.3"/><line x1="445.21" y1="763.72" x2="465.81" y2="763.72" stroke="#800080" stroke-width="2.60"/><line x1="445.21" y1="771.74" x2="465.81" y2="771.74" stroke="#800080" stroke-width="2.60"/><line x1="473.67" y1="769.73" x2="473.67" y2="778.14" stroke="#800080" stroke-width="1.3"/><line x1="463.37" y1="769.73" x2="483.97" y2="769.73" stroke="#800080" stroke-width="2.60"/><line x1="463.37" y1="778.14" x2="483.97" y2="778.14" stroke="#800080" stroke-width="2.60"/><line x1="491.84" y1="764.73" x2="491.84" y2="774.74" stroke="#800080" stroke-width="1.3"/><line x1="481.54" y1="764.73" x2="502.14" y2="764.73" stroke="#800080" stroke-width="2.60"/><line x1="481.54" y1="774.74" x2="502.14" y2="774.74" stroke="#800080" stroke-width="2.60"/><line x1="510.01" y1="768.53" x2="510.01" y2="778.14" stroke="#800080" stroke-width="1.3"/><line x1="499.71" y1="768.53" x2="520.31" y2="768.53" stroke="#800080" stroke-width="2.60"/><line x1="499.71" y1="778.14" x2="520.31" y2="778.14" stroke="#800080" stroke-width="2.60"/><line x1="528.17" y1="767.73" x2="528.17" y2="777.74" stroke="#800080" stroke-width="1.3"/><line x1="517.87" y1="767.73" x2="538.47" y2="767.73" stroke="#800080" stroke-width="2.60"/><line x1="517.87" y1="777.74" x2="538.47" y2="777.74" stroke="#800080" stroke-width="2.60"/><line x1="546.34" y1="771.23" x2="546.34" y2="782.25" stroke="#800080" stroke-width="1.3"/><line x1="536.04" y1="771.23" x2="556.64" y2="771.23" stroke="#800080" stroke-width="2.60"/><line x1="536.04" y1="782.25" x2="556.64" y2="782.25" stroke="#800080" stroke-width="2.60"/><line x1="564.51" y1="768.33" x2="564.51" y2="779.55" stroke="#800080" stroke-width="1.3"/><line x1="554.21" y1="768.33" x2="574.81" y2="768.33" stroke="#800080" stroke-width="2.60"/><line x1="554.21" y1="779.55" x2="574.81" y2="779.55" stroke="#800080" stroke-width="2.60"/><line x1="582.68" y1="770.73" x2="582.68" y2="781.95" stroke="#800080" stroke-width="1.3"/><line x1="572.38" y1="770.73" x2="592.98" y2="770.73" stroke="#800080" stroke-width="2.60"/><line x1="572.38" y1="781.95" x2="592.98" y2="781.95" stroke="#800080" stroke-width="2.60"/><line x1="600.84" y1="768.13" x2="600.84" y2="779.75" stroke="#800080" stroke-width="1.3"/><line x1="590.54" y1="768.13" x2="611.14" y2="768.13" stroke="#800080" stroke-width="2.60"/><line x1="590.54" y1="779.75" x2="611.14" y2="779.75" stroke="#800080" stroke-width="2.60"/><line x1="619.01" y1="774.34" x2="619.01" y2="787.96" stroke="#800080" stroke-width="1.3"/><line x1="608.71" y1="774.34" x2="629.31" y2="774.34" stroke="#800080" stroke-width="2.60"/><line x1="608.71" y1="787.96" x2="629.31" y2="787.96" stroke="#800080" stroke-width="2.60"/><line x1="637.18" y1="773.94" x2="637.18" y2="787.56" stroke="#800080" stroke-width="1.3"/><line x1="626.88" y1="773.94" x2="647.48" y2="773.94" stroke="#800080" stroke-width="2.60"/><line x1="626.88" y1="787.56" x2="647.48" y2="787.56" stroke="#800080" stroke-width="2.60"/><line x1="655.34" y1="771.53" x2="655.34" y2="785.15" stroke="#800080" stroke-width="1.3"/><line x1="645.04" y1="771.53" x2="665.64" y2="771.53" stroke="#800080" stroke-width="2.60"/><line x1="645.04" y1="785.15" x2="665.64" y2="785.15" stroke="#800080" stroke-width="2.60"/><polyline points="128.50,556.24 146.67,931.35 164.83,602.31 183.00,908.92 201.17,635.55 219.34,879.68 237.50,660.39 255.67,855.85 273.84,681.01 292.00,841.83 310.17,694.43 328.34,833.42 346.50,700.44 364.67,829.21 382.84,705.05 401.00,828.21 419.17,705.25 437.34,830.21 455.51,705.65 473.67,834.42 491.84,701.64 510.01,837.42 528.17,698.04 546.34,842.23 564.51,689.42 582.68,849.44 600.84,684.42 619.01,857.85 637.18,674.20 655.34,866.66" fill="none" stroke="#d62728" stroke-width="1.50" stroke-linejoin="round"/><rect x="123.40" y="551.14" width="10.2" height="10.2" fill="#d62728" stroke="#fff" stroke-width="3"/><rect x="141.57" y="926.25" width="10.2" height="10.2" fill="#d62728" stroke="#fff" stroke-width="3"/><rect x="159.73" y="597.21" width="10.2" height="10.2" fill="#d62728" stroke="#fff" stroke-width="3"/><rect x="177.90" y="903.82" width="10.2" height="10.2" fill="#d62728" stroke="#fff" stroke-width="3"/><rect x="196.07" y="630.45" width="10.2" height="10.2" fill="#d62728" stroke="#fff" stroke-width="3"/><rect x="214.24" y="874.58" width="10.2" height="10.2" fill="#d62728" stroke="#fff" stroke-width="3"/><rect x="232.40" y="655.29" width="10.2" height="10.2" fill="#d62728" stroke="#fff" stroke-width="3"/><rect x="250.57" y="850.75" width="10.2" height="10.2" fill="#d62728" stroke="#fff" stroke-width="3"/><rect x="268.74" y="675.91" width="10.2" height="10.2" fill="#d62728" stroke="#fff" stroke-width="3"/><rect x="286.90" y="836.73" width="10.2" height="10.2" fill="#d62728" stroke="#fff" stroke-width="3"/><rect x="305.07" y="689.33" width="10.2" height="10.2" fill="#d62728" stroke="#fff" stroke-width="3"/><rect x="323.24" y="828.32" width="10.2" height="10.2" fill="#d62728" stroke="#fff" stroke-width="3"/><rect x="341.40" y="695.34" width="10.2" height="10.2" fill="#d62728" stroke="#fff" stroke-width="3"/><rect x="359.57" y="824.11" width="10.2" height="10.2" fill="#d62728" stroke="#fff" stroke-width="3"/><rect x="377.74" y="699.95" width="10.2" height="10.2" fill="#d62728" stroke="#fff" stroke-width="3"/><rect x="395.90" y="823.11" width="10.2" height="10.2" fill="#d62728" stroke="#fff" stroke-width="3"/><rect x="414.07" y="700.15" width="10.2" height="10.2" fill="#d62728" stroke="#fff" stroke-width="3"/><rect x="432.24" y="825.11" width="10.2" height="10.2" fill="#d62728" stroke="#fff" stroke-width="3"/><rect x="450.41" y="700.55" width="10.2" height="10.2" fill="#d62728" stroke="#fff" stroke-width="3"/><rect x="468.57" y="829.32" width="10.2" height="10.2" fill="#d62728" stroke="#fff" stroke-width="3"/><rect x="486.74" y="696.54" width="10.2" height="10.2" fill="#d62728" stroke="#fff" stroke-width="3"/><rect x="504.91" y="832.32" width="10.2" height="10.2" fill="#d62728" stroke="#fff" stroke-width="3"/><rect x="523.07" y="692.94" width="10.2" height="10.2" fill="#d62728" stroke="#fff" stroke-width="3"/><rect x="541.24" y="837.13" width="10.2" height="10.2" fill="#d62728" stroke="#fff" stroke-width="3"/><rect x="559.41" y="684.32" width="10.2" height="10.2" fill="#d62728" stroke="#fff" stroke-width="3"/><rect x="577.58" y="844.34" width="10.2" height="10.2" fill="#d62728" stroke="#fff" stroke-width="3"/><rect x="595.74" y="679.32" width="10.2" height="10.2" fill="#d62728" stroke="#fff" stroke-width="3"/><rect x="613.91" y="852.75" width="10.2" height="10.2" fill="#d62728" stroke="#fff" stroke-width="3"/><rect x="632.08" y="669.10" width="10.2" height="10.2" fill="#d62728" stroke="#fff" stroke-width="3"/><rect x="650.24" y="861.56" width="10.2" height="10.2" fill="#d62728" stroke="#fff" stroke-width="3"/><polyline points="128.50,569.46 146.67,798.17 164.83,754.59 183.00,776.54 201.17,756.92 219.34,770.53 237.50,761.12 255.67,768.73 273.84,762.92 292.00,769.33 310.17,764.33 328.34,769.33 346.50,766.33 364.67,769.73 382.84,766.33 401.00,772.34 419.17,766.93 437.34,773.34 455.51,767.73 473.67,773.94 491.84,769.73 510.01,773.34 528.17,772.74 546.34,776.74 564.51,773.94 582.68,776.34 600.84,773.94 619.01,781.15 637.18,780.75 655.34,778.34" fill="none" stroke="#800080" stroke-width="2.60" stroke-linejoin="round"/><circle cx="128.50" cy="569.46" r="6.15" fill="#800080" stroke="#fff" stroke-width="2.5"/><circle cx="146.67" cy="798.17" r="6.15" fill="#800080" stroke="#fff" stroke-width="2.5"/><circle cx="164.83" cy="754.59" r="6.15" fill="#800080" stroke="#fff" stroke-width="2.5"/><circle cx="183.00" cy="776.54" r="6.15" fill="#800080" stroke="#fff" stroke-width="2.5"/><circle cx="201.17" cy="756.92" r="6.15" fill="#800080" stroke="#fff" stroke-width="2.5"/><circle cx="219.34" cy="770.53" r="6.15" fill="#800080" stroke="#fff" stroke-width="2.5"/><circle cx="237.50" cy="761.12" r="6.15" fill="#800080" stroke="#fff" stroke-width="2.5"/><circle cx="255.67" cy="768.73" r="6.15" fill="#800080" stroke="#fff" stroke-width="2.5"/><circle cx="273.84" cy="762.92" r="6.15" fill="#800080" stroke="#fff" stroke-width="2.5"/><circle cx="292.00" cy="769.33" r="6.15" fill="#800080" stroke="#fff" stroke-width="2.5"/><circle cx="310.17" cy="764.33" r="6.15" fill="#800080" stroke="#fff" stroke-width="2.5"/><circle cx="328.34" cy="769.33" r="6.15" fill="#800080" stroke="#fff" stroke-width="2.5"/><circle cx="346.50" cy="766.33" r="6.15" fill="#800080" stroke="#fff" stroke-width="2.5"/><circle cx="364.67" cy="769.73" r="6.15" fill="#800080" stroke="#fff" stroke-width="2.5"/><circle cx="382.84" cy="766.33" r="6.15" fill="#800080" stroke="#fff" stroke-width="2.5"/><circle cx="401.00" cy="772.34" r="6.15" fill="#800080" stroke="#fff" stroke-width="2.5"/><circle cx="419.17" cy="766.93" r="6.15" fill="#800080" stroke="#fff" stroke-width="2.5"/><circle cx="437.34" cy="773.34" r="6.15" fill="#800080" stroke="#fff" stroke-width="2.5"/><circle cx="455.51" cy="767.73" r="6.15" fill="#800080" stroke="#fff" stroke-width="2.5"/><circle cx="473.67" cy="773.94" r="6.15" fill="#800080" stroke="#fff" stroke-width="2.5"/><circle cx="491.84" cy="769.73" r="6.15" fill="#800080" stroke="#fff" stroke-width="2.5"/><circle cx="510.01" cy="773.34" r="6.15" fill="#800080" stroke="#fff" stroke-width="2.5"/><circle cx="528.17" cy="772.74" r="6.15" fill="#800080" stroke="#fff" stroke-width="2.5"/><circle cx="546.34" cy="776.74" r="6.15" fill="#800080" stroke="#fff" stroke-width="2.5"/><circle cx="564.51" cy="773.94" r="6.15" fill="#800080" stroke="#fff" stroke-width="2.5"/><circle cx="582.68" cy="776.34" r="6.15" fill="#800080" stroke="#fff" stroke-width="2.5"/><circle cx="600.84" cy="773.94" r="6.15" fill="#800080" stroke="#fff" stroke-width="2.5"/><circle cx="619.01" cy="781.15" r="6.15" fill="#800080" stroke="#fff" stroke-width="2.5"/><circle cx="637.18" cy="780.75" r="6.15" fill="#800080" stroke="#fff" stroke-width="2.5"/><circle cx="655.34" cy="778.34" r="6.15" fill="#800080" stroke="#fff" stroke-width="2.5"/></g>
<rect x="102.05" y="547.60" width="579.50" height="440.40" fill="none" stroke="#000" stroke-width="1.85"/>
<line x1="93.05" y1="968.20" x2="102.05" y2="968.20" stroke="#000" stroke-width="1.85"/>
<text x="35.28" y="976.10" font-size="21.40" textLength="48.89" lengthAdjust="spacingAndGlyphs" fill="#000"><tspan>−1.0</tspan></text>
<line x1="93.05" y1="868.06" x2="102.05" y2="868.06" stroke="#000" stroke-width="1.85"/>
<text x="35.28" y="875.96" font-size="21.40" textLength="48.96" lengthAdjust="spacingAndGlyphs" fill="#000"><tspan>−0.5</tspan></text>
<line x1="93.05" y1="767.93" x2="102.05" y2="767.93" stroke="#000" stroke-width="1.85"/>
<text x="52.31" y="775.83" font-size="21.40" textLength="31.79" lengthAdjust="spacingAndGlyphs" fill="#000"><tspan>0.0</tspan></text>
<line x1="93.05" y1="667.79" x2="102.05" y2="667.79" stroke="#000" stroke-width="1.85"/>
<text x="52.30" y="675.69" font-size="21.40" textLength="31.86" lengthAdjust="spacingAndGlyphs" fill="#000"><tspan>0.5</tspan></text>
<line x1="93.05" y1="567.66" x2="102.05" y2="567.66" stroke="#000" stroke-width="1.85"/>
<text x="51.41" y="575.56" font-size="21.40" textLength="32.71" lengthAdjust="spacingAndGlyphs" fill="#000"><tspan>1.0</tspan></text>
<line x1="128.50" y1="988.00" x2="128.50" y2="997.00" stroke="#000" stroke-width="1.85"/>
<text x="121.98" y="1020.90" font-size="21.40" textLength="13.03" lengthAdjust="spacingAndGlyphs" fill="#000"><tspan>0</tspan></text>
<line x1="219.34" y1="988.00" x2="219.34" y2="997.00" stroke="#000" stroke-width="1.85"/>
<text x="212.79" y="1020.90" font-size="21.40" textLength="13.14" lengthAdjust="spacingAndGlyphs" fill="#000"><tspan>5</tspan></text>
<line x1="310.17" y1="988.00" x2="310.17" y2="997.00" stroke="#000" stroke-width="1.85"/>
<text x="296.57" y="1020.90" font-size="21.40" textLength="26.33" lengthAdjust="spacingAndGlyphs" fill="#000"><tspan>10</tspan></text>
<line x1="401.00" y1="988.00" x2="401.00" y2="997.00" stroke="#000" stroke-width="1.85"/>
<text x="387.40" y="1020.90" font-size="21.40" textLength="26.41" lengthAdjust="spacingAndGlyphs" fill="#000"><tspan>15</tspan></text>
<line x1="491.84" y1="988.00" x2="491.84" y2="997.00" stroke="#000" stroke-width="1.85"/>
<text x="478.88" y="1020.90" font-size="21.40" textLength="25.66" lengthAdjust="spacingAndGlyphs" fill="#000"><tspan>20</tspan></text>
<line x1="582.68" y1="988.00" x2="582.68" y2="997.00" stroke="#000" stroke-width="1.85"/>
<text x="569.71" y="1020.90" font-size="21.40" textLength="25.74" lengthAdjust="spacingAndGlyphs" fill="#000"><tspan>25</tspan></text>
<line x1="673.51" y1="988.00" x2="673.51" y2="997.00" stroke="#000" stroke-width="1.85"/>
<text x="660.84" y="1020.90" font-size="21.40" textLength="25.36" lengthAdjust="spacingAndGlyphs" fill="#000"><tspan>30</tspan></text>
<text x="318.84" y="1050.40" font-size="21.00" textLength="75.61" lengthAdjust="spacingAndGlyphs" fill="#000"><tspan>Floquet</tspan></text>
<text x="401.40" y="1050.40" font-size="21.00" textLength="62.81" lengthAdjust="spacingAndGlyphs" fill="#000"><tspan>cycles</tspan></text>
<text x="-1.00" y="0.00" font-size="21.00" textLength="44.04" lengthAdjust="spacingAndGlyphs" transform="translate(17.3,858.5) rotate(-90)" fill="#000"><tspan>Spin</tspan></text>
<text x="50.01" y="0.00" font-size="21.00" textLength="85.84" lengthAdjust="spacingAndGlyphs" transform="translate(17.3,858.5) rotate(-90)" fill="#000"><tspan>ordering</tspan></text>
<text x="142.17" y="0.00" font-size="21.00" textLength="38.30" lengthAdjust="spacingAndGlyphs" transform="translate(17.3,858.5) rotate(-90)" fill="#000"><tspan>Δ(</tspan><tspan font-style="italic">t</tspan><tspan>)</tspan></text>
<text x="-1.6" y="571.2" font-size="30.5" font-weight="bold">b</text>
<rect x="506.35" y="557.5" width="165.2" height="65.9" rx="3.6" ry="3.6" fill="#fff" fill-opacity="0.8" stroke="#d4d4d4" stroke-width="2.5"/>
<line x1="534.60" y1="563.7" x2="534.60" y2="584.3" stroke="#d62728" stroke-width="1.3"/>
<line x1="524.3" y1="563.70" x2="544.9" y2="563.70" stroke="#d62728" stroke-width="2.1"/>
<line x1="524.3" y1="584.30" x2="544.9" y2="584.30" stroke="#d62728" stroke-width="2.1"/>
<line x1="513.5" y1="574.10" x2="555.8" y2="574.10" stroke="#d62728" stroke-width="1.5"/>
<rect x="529.50" y="569.00" width="10.2" height="10.2" fill="#d62728" stroke="#fff" stroke-width="3"/>
<text x="571.10" y="580.80" font-size="21.00" textLength="91.62" lengthAdjust="spacingAndGlyphs" fill="#000"><tspan>Polarized</tspan></text>
<line x1="534.60" y1="593.6" x2="534.60" y2="613.8" stroke="#800080" stroke-width="1.3"/>
<line x1="524.3" y1="593.60" x2="544.9" y2="593.60" stroke="#800080" stroke-width="2.8"/>
<line x1="524.3" y1="613.80" x2="544.9" y2="613.80" stroke="#800080" stroke-width="2.8"/>
<line x1="513.1" y1="603.90" x2="556.1" y2="603.90" stroke="#800080" stroke-width="2.6"/>
<circle cx="534.60" cy="603.90" r="6.25" fill="#800080" stroke="#fff" stroke-width="2.8"/>
<text x="570.94" y="610.90" font-size="21.00" textLength="46.57" lengthAdjust="spacingAndGlyphs" fill="#000"><tspan>Néel</tspan></text></svg>
</body></html>
